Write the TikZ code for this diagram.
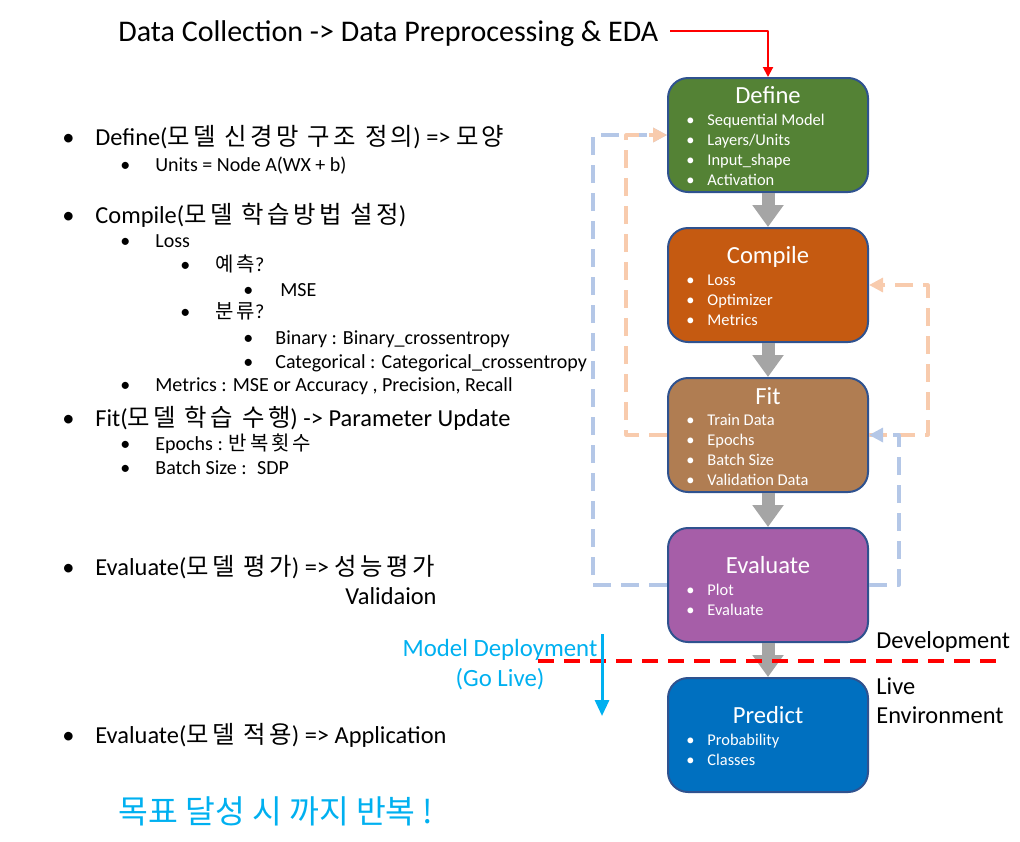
\documentclass[tikz,border=0pt]{standalone}
\usepackage{fontspec}
\setmainfont{Carlito}
\newfontfamily\kr[LetterSpace=14]{Noto Sans CJK KR}
\newfontfamily\krgoal{Noto Sans CJK KR}
\usetikzlibrary{arrows.meta}

\definecolor{defgreen}{HTML}{548235}
\definecolor{comporange}{HTML}{C55A11}
\definecolor{fitbrown}{HTML}{B07D52}
\definecolor{evalpurple}{HTML}{A65EA8}
\definecolor{predblue}{HTML}{0070C0}
\definecolor{boxedge}{HTML}{2F528F}
\definecolor{loopblue}{HTML}{B4C7E7}
\definecolor{looppeach}{HTML}{F8CBAD}
\definecolor{skyblue}{HTML}{00B0F0}
\definecolor{flowgray}{HTML}{A5A5A5}

\newcommand{\bul}[1]{\makebox[#1][l]{•}}

\begin{document}
\begin{tikzpicture}[x=0.5pt, y=-0.5pt, line join=round,
	stepbox/.style={draw=boxedge, line width=1pt, rounded corners=10pt, minimum width=100pt, minimum height=57pt, inner sep=0pt},
	boxtitle/.style={anchor=base, text=white, font=\fontsize{12.3}{15}\selectfont},
	boxitems/.style={anchor=base west, align=left, text=white, inner sep=0pt, font=\fontsize{8.2}{10}\selectfont},
	lvone/.style={anchor=base west, inner sep=0pt, font=\fontsize{12.2}{15}\selectfont},
	lvtwo/.style={anchor=base west, inner sep=0pt, font=\fontsize{10}{12}\selectfont},
	flow/.style={-{Triangle[width=15pt,length=11pt]}, line width=6.5pt, flowgray},
	loopb/.style={-{Triangle[width=7pt,length=7pt]}, line width=1.6pt, loopblue, dash pattern=on 9pt off 5pt},
	loopp/.style={-{Triangle[width=7pt,length=7pt]}, line width=1.6pt, looppeach, dash pattern=on 9pt off 5pt}]
	
	\useasboundingbox (0,0) rectangle (1020,841);
	
	% title and red arrow
	\node[anchor=base west, inner sep=0pt, font=\fontsize{15}{18}\selectfont] (title) at (118,41) {Data Collection -> Data Preprocessing \& EDA};
	\coordinate (redstart) at (670,31);
	
	% steps
	\node[stepbox, fill=defgreen] (define) at (768,135) {};
	\node[stepbox, fill=comporange] (compile) at (768,285) {};
	\node[stepbox, fill=fitbrown] (fit) at (768,435) {};
	\node[stepbox, fill=evalpurple] (evaluate) at (768,585) {};
	\node[stepbox, fill=predblue] (predict) at (768,735) {};
	
	\node[boxtitle] (definet) at (768,103) {Define};
	\node[boxitems] (definei) at (686,185) {\bul{10.5pt}Sequential Model\\ \bul{10.5pt}Layers/Units\\ \bul{10.5pt}Input\_shape\\ \bul{10.5pt}Activation};
	\node[boxtitle] (compilet) at (768,263) {Compile};
	\node[boxitems] (compilei) at (686,325) {\bul{10.5pt}Loss\\ \bul{10.5pt}Optimizer\\ \bul{10.5pt}Metrics};
	\node[boxtitle] (fitt) at (768,404) {Fit};
	\node[boxitems] (fiti) at (686,485) {\bul{10.5pt}Train Data\\ \bul{10.5pt}Epochs\\ \bul{10.5pt}Batch Size\\ \bul{10.5pt}Validation Data};
	\node[boxtitle] (evaluatet) at (768,573) {Evaluate};
	\node[boxitems] (evaluatei) at (686,615) {\bul{10.5pt}Plot\\ \bul{10.5pt}Evaluate};
	\node[boxtitle] (predictt) at (768,723) {Predict};
	\node[boxitems] (predicti) at (686,765) {\bul{10.5pt}Probability\\ \bul{10.5pt}Classes};
	
	\draw[red, line width=1pt, -{Triangle[width=5pt,length=5pt]}] (redstart) -| (define.north);
	
	\draw[flow] (define) -- (compile);
	\draw[flow] (compile) -- (fit);
	\draw[flow] (fit) -- (evaluate);
	\draw[flow] (evaluate) -- (predict);
	
	% feedback loops
	\draw[loopb] (evaluate.west) -- ++(-74,0) |- (define.west);
	\draw[loopp] (fit.west) -- ++(-41,0) |- (define.west);
	\draw[loopp] (fit.east) -- ++(59,0) |- (compile.east);
	\draw[loopb] (evaluate.east) -- ++(30,0) |- (fit.east);
	
	% development / live
	\coordinate (devL) at (538,661);
	\coordinate (devR) at (1000,661);
	\draw[red, line width=2pt, dash pattern=on 8pt off 5pt] (devL) -- (devR);
	\node[lvone] (devtext) at (876,648) {Development};
	\node[lvone] (livetext) at (876,694) {Live};
	\node[lvone] (envtext) at (876,723) {Environment};
	
	\node[anchor=base, align=center, text=skyblue, font=\fontsize{12.4}{15}\selectfont] (deploy) at (500,686) {Model Deployment\\(Go Live)};
	\coordinate (gotop) at (602,634);
	\coordinate (gobot) at (602,716);
	\draw[skyblue, line width=1.5pt, -{Triangle[width=7pt,length=8pt]}] (gotop) -- (gobot);
	
	% notes on the left
	\node[lvone] (n1) at (62,145) {\bul{16.5pt}Define({\kr 모델 신경망 구조 정의}) => {\kr 모양}};
	\node[lvtwo] (n2) at (120,171) {\bul{17.5pt}Units = Node A(WX + b)};
	\node[lvone] (n3) at (62,223) {\bul{16.5pt}Compile({\kr 모델 학습방법 설정})};
	\node[lvtwo] (n4) at (120,247) {\bul{17.5pt}Loss};
	\node[lvtwo] (n5) at (180,271) {\bul{17.5pt}{\kr 예측}?};
	\node[lvtwo] (n6) at (243,296) {\bul{18.5pt}MSE};
	\node[lvtwo] (n7) at (180,318) {\bul{17.5pt}{\kr 분류}?};
	\node[lvtwo] (n8) at (243,344) {\bul{16pt}Binary : Binary\_crossentropy};
	\node[lvtwo] (n9) at (243,368) {\bul{16pt}Categorical : Categorical\_crossentropy};
	\node[lvtwo] (n10) at (120,391) {\bul{17.5pt}Metrics : MSE or Accuracy , Precision, Recall};
	\node[lvone] (n11) at (62,426) {\bul{16.5pt}Fit({\kr 모델 학습 수행}) -> Parameter Update};
	\node[lvtwo] (n12) at (120,450) {\bul{17.5pt}Epochs : {\kr 반복횟수}};
	\node[lvtwo] (n13) at (120,474) {\bul{17.5pt}Batch Size :~ SDP};
	\node[lvone] (n14) at (62,575) {\bul{16.5pt}Evaluate({\kr 모델 평가}) => {\kr 성능평가}};
	\node[lvone, anchor=base east] (n15) at (437,604) {Validaion};
	\node[lvone] (n16) at (62,743) {\bul{16.5pt}Evaluate({\kr 모델 적용}) => Application};
	
	\node[anchor=base west, inner sep=0pt, text=skyblue, font=\krgoal\fontsize{16.2}{18}\selectfont] (goal) at (118,823) {목표 달성 시 까지 반복 !};
	
\end{tikzpicture}
\end{document}
